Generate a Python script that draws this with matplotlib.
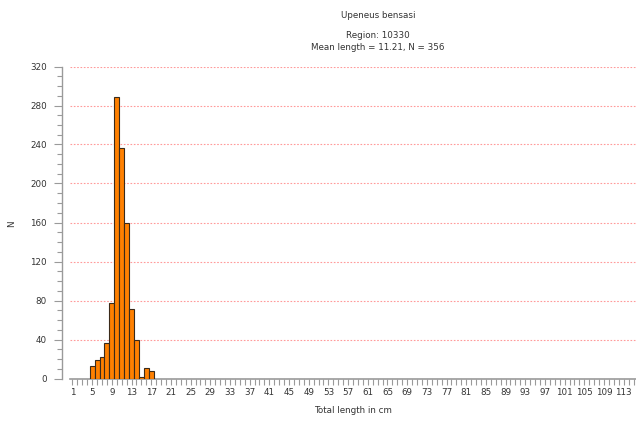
import numpy as np
import matplotlib.pyplot as plt
from matplotlib.ticker import MultipleLocator

# length classes (cm) and counts
lengths = [5, 6, 7, 8, 9, 10, 11, 12, 13, 14, 15, 16, 17]
counts = [13, 19, 22, 36, 77, 289, 236, 159, 71, 39, 2, 11, 8]

species = "Upeneus bensasi"
region = "Region: 10330"
summary = "Mean length = 11.21, N = 356"

x_labels = list(range(1, 114, 4))
y_major = list(range(0, 321, 40))

plt.rcParams['font.family'] = ['DejaVu Sans']
fs = 6.3
txt_col = '#333333'
ax_col = '#9a9a9a'

fig = plt.figure(figsize=(6.36, 4.23), dpi=100)
ax = fig.add_axes([70 / 636, 1 - 378.5 / 423, 1 - 70 / 636, (378.5 - 66.5) / 423])

ax.bar(lengths, counts, width=1.0, color='#ff8000', edgecolor='#3a2a1a',
       linewidth=0.8, zorder=3)

ax.set_xlim(0.5, 115.5)
ax.set_ylim(0, 320)

# red dotted horizontal grid
for y in y_major[1:]:
    ax.axhline(y, color='#ff9a9a', linestyle=(0, (1.5, 1.5)), linewidth=0.8, zorder=1)

ax.set_xticks(x_labels)
ax.set_xticklabels([str(v) for v in x_labels])
ax.xaxis.set_minor_locator(MultipleLocator(1))
ax.set_yticks(y_major)
ax.yaxis.set_minor_locator(MultipleLocator(10))

ax.tick_params(axis='x', which='both', direction='out', length=4, width=0.8,
               color=ax_col, labelsize=fs, labelcolor=txt_col, pad=3)
ax.tick_params(axis='y', which='major', direction='out', length=6, width=0.8,
               color=ax_col, labelsize=fs, labelcolor=txt_col, pad=5)
ax.tick_params(axis='y', which='minor', direction='out', length=3.5, width=0.8,
               color=ax_col)

for s in ['top', 'right']:
    ax.spines[s].set_visible(False)
ax.spines['left'].set_position(('outward', 5.8))
ax.spines['left'].set_color(ax_col)
ax.spines['bottom'].set_color(ax_col)
ax.spines['left'].set_linewidth(1.0)
ax.spines['bottom'].set_linewidth(1.2)

ax.set_xlabel("Total length in cm", fontsize=fs, color=txt_col, labelpad=6)
fig.text(12 / 636, 1 - 224 / 423, "N", rotation=90, fontsize=fs, color=txt_col,
         ha='center', va='center')

cx = 378 / 636
fig.text(cx, 1 - 15 / 423, species, fontsize=fs, color=txt_col, ha='center', va='center')
fig.text(cx, 1 - 35 / 423, region, fontsize=fs, color=txt_col, ha='center', va='center')
fig.text(cx, 1 - 48 / 423, summary, fontsize=fs, color=txt_col, ha='center', va='center')

fig.savefig("out.png", dpi=100)
